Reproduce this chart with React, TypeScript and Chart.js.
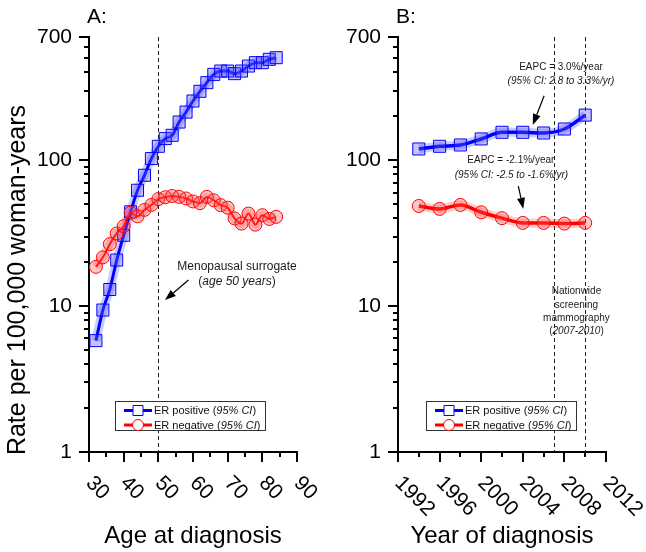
import React, { useEffect, useRef } from 'react';
import { Chart, registerables } from 'chart.js';

Chart.register(...registerables);

const FAMILY = "'Liberation Sans', Arial, Helvetica, sans-serif";

// ---- Panel A data (age at diagnosis) ----
const ageA = [32, 34, 36, 38, 40, 42, 44, 46, 48, 50, 52, 54, 56, 58, 60, 62, 64, 66, 68, 70, 72, 74, 76, 78, 80, 82, 84];
const erPositiveA = [5.8, 9.4, 13.0, 20.7, 30.6, 44.3, 62.3, 78.9, 102.7, 124.7, 140.8, 148.3, 182.9, 214, 254.8, 297, 340.6, 388, 409, 409, 392.5, 409, 442.6, 467, 467, 492, 505];
const erNegativeA = [18.6, 21.6, 26.6, 31.5, 35.3, 43.7, 41.3, 45.7, 49.4, 54.2, 55.8, 56.9, 56.1, 54.7, 52.2, 50.8, 56.1, 53.2, 49.2, 47.3, 39.9, 36.8, 43.1, 36.2, 42.0, 39.6, 40.9];

// ---- Panel B data (year of diagnosis) ----
const yearsB = [1994, 1996, 1998, 2000, 2002, 2004, 2006, 2008, 2010];
const erPositiveB = [119.5, 124.7, 127.3, 140, 155.5, 155.5, 153.8, 163.8, 204];
const erNegativeB = [48.6, 46.4, 49.4, 44.0, 40.1, 37.2, 37.2, 36.8, 37.2];

// ---- Ticks ----
const yTickLabels = [1, 10, 100, 700];
const yMinorTicks = [2, 3, 4, 5, 6, 7, 8, 9, 20, 30, 40, 50, 60, 70, 80, 90, 200, 300, 400, 500, 600];
const ageMajorTicks = [30, 40, 50, 60, 70, 80, 90];
const ageMinorTicks = [35, 45, 55, 65, 75, 85];
const yearMajorTicks = [1992, 1996, 2000, 2004, 2008, 2012];
const yearMinorTicks = [1994, 1998, 2002, 2006, 2010];

// ---- Reference lines ----
const menopauseAge = [50];
const screeningYears = [2007, 2010];

type Part = [string, boolean];
type Note = { parts: Part[]; x: number; y: number; size: number };
type Arrow = { from: [number, number]; to: [number, number] };

const notesA: Note[] = [
  { parts: [['Menopausal surrogate', false]], x: 72.7, y: 18.6, size: 12 },
  { parts: [['(', false], ['age 50 years', true], [')', false]], x: 72.7, y: 14.7, size: 12 },
];
const arrowsA: Arrow[] = [{ from: [58.7, 15.1], to: [51.9, 11.0] }];

const notesB: Note[] = [
  { parts: [['EAPC = 3.0%/year', false]], x: 2007.67, y: 433, size: 10 },
  { parts: [['(95% CI: 2.8 to 3.3%/yr)', true]], x: 2007.67, y: 351, size: 10 },
  { parts: [['EAPC = -2.1%/year', false]], x: 2002.85, y: 99.5, size: 10 },
  { parts: [['(95% CI: -2.5 to -1.6%/yr)', true]], x: 2002.9, y: 79.3, size: 10 },
  { parts: [['Nationwide', false]], x: 2009.16, y: 12.6, size: 10 },
  { parts: [['screening', false]], x: 2009.16, y: 10.2, size: 10 },
  { parts: [['mammography', false]], x: 2009.16, y: 8.29, size: 10 },
  { parts: [['(', false], ['2007-2010', true], [')', false]], x: 2009.16, y: 6.73, size: 10 },
];
const arrowsB: Arrow[] = [
  { from: [2006.05, 277], to: [2004.96, 174.6] },
  { from: [2003.57, 66.4], to: [2004.05, 46.4] },
];

const BLUE = '#0000ff';
const RED = '#ff0000';

function font(size: number, italic = false) {
  return `${italic ? 'italic ' : ''}${size}px ${FAMILY}`;
}

function richText(ctx: CanvasRenderingContext2D, parts: Part[], x: number, y: number, size: number, align: 'left' | 'center') {
  const widths = parts.map(([t, it]) => {
    ctx.font = font(size, it);
    return ctx.measureText(t).width;
  });
  const total = widths.reduce((a, b) => a + b, 0);
  let cx = align === 'center' ? x - total / 2 : x;
  ctx.textAlign = 'left';
  ctx.textBaseline = 'middle';
  parts.forEach(([t, it], i) => {
    ctx.font = font(size, it);
    ctx.fillText(t, cx, y);
    cx += widths[i];
  });
}

function drawArrow(ctx: CanvasRenderingContext2D, x1: number, y1: number, x2: number, y2: number) {
  const ang = Math.atan2(y2 - y1, x2 - x1);
  const hl = 11, hw = 4;
  const bx = x2 - hl * Math.cos(ang), by = y2 - hl * Math.sin(ang);
  ctx.strokeStyle = '#000';
  ctx.fillStyle = '#000';
  ctx.lineWidth = 1.2;
  ctx.setLineDash([]);
  ctx.beginPath();
  ctx.moveTo(x1, y1);
  ctx.lineTo(bx, by);
  ctx.stroke();
  ctx.beginPath();
  ctx.moveTo(x2, y2);
  ctx.lineTo(bx + hw * Math.sin(ang), by - hw * Math.cos(ang));
  ctx.lineTo(bx - hw * Math.sin(ang), by + hw * Math.cos(ang));
  ctx.closePath();
  ctx.fill();
}

type PanelCfg = {
  title: string;
  xTitle: string;
  yTitle?: string;
  xMin: number; xMax: number;
  xMajor: number[]; xMinor: number[];
  refLines: number[];
  notes: Note[];
  arrows: Arrow[];
  yWidth: number;
  padRight: number;
  legendDx: number;
};

function panelPlugin(cfg: PanelCfg) {
  return {
    id: 'panelDecor',
    beforeDatasetsDraw(chart: any) {
      const { ctx, chartArea: ca, scales } = chart;
      ctx.save();
      ctx.strokeStyle = '#222';
      ctx.lineWidth = 1;
      ctx.setLineDash([4, 3]);
      cfg.refLines.forEach((v) => {
        const px = Math.round(scales.x.getPixelForValue(v)) + 0.5;
        ctx.beginPath();
        ctx.moveTo(px, ca.top);
        ctx.lineTo(px, ca.bottom);
        ctx.stroke();
      });
      ctx.restore();
    },
    afterDatasetsDraw(chart: any) {
      const { ctx, chartArea: ca } = chart;
      ctx.save();
      const lx = ca.left + cfg.legendDx, ly = ca.bottom - 51, lw = 150, lh = 29;
      ctx.fillStyle = '#fff';
      ctx.fillRect(lx, ly, lw, lh);
      ctx.strokeStyle = '#333';
      ctx.lineWidth = 1;
      ctx.setLineDash([]);
      ctx.strokeRect(lx + 0.5, ly + 0.5, lw, lh);
      const rows: { color: string; shape: 'rect' | 'circle'; label: Part[] }[] = [
        { color: BLUE, shape: 'rect', label: [['ER positive (', false], ['95% CI', true], [')', false]] },
        { color: RED, shape: 'circle', label: [['ER negative (', false], ['95% CI', true], [')', false]] },
      ];
      rows.forEach((r, i) => {
        const cy = ly + 9.5 + i * 14.5;
        const x0 = lx + 9, x1 = lx + 37, mx = (x0 + x1) / 2;
        ctx.strokeStyle = r.color;
        ctx.lineWidth = 3;
        ctx.beginPath();
        ctx.moveTo(x0, cy);
        ctx.lineTo(x1, cy);
        ctx.stroke();
        ctx.fillStyle = '#fff';
        ctx.lineWidth = 1;
        ctx.beginPath();
        if (r.shape === 'rect') ctx.rect(mx - 5, cy - 5, 10, 10);
        else ctx.arc(mx, cy, 5.5, 0, Math.PI * 2);
        ctx.fill();
        ctx.stroke();
        ctx.fillStyle = '#111';
        richText(ctx, r.label, x1 + 2, cy + 0.5, 11, 'left');
      });
      ctx.restore();
    },
    afterDraw(chart: any) {
      const { ctx, chartArea: ca, scales } = chart;
      const xs = scales.x, ys = scales.y;
      ctx.save();
      ctx.strokeStyle = '#000';
      ctx.lineWidth = 2;
      ctx.setLineDash([]);
      // y ticks
      const yt = (v: number, len: number) => {
        const py = Math.round(ys.getPixelForValue(v));
        ctx.beginPath();
        ctx.moveTo(ca.left, py);
        ctx.lineTo(ca.left - len, py);
        ctx.stroke();
      };
      yTickLabels.forEach((v) => yt(v, 10));
      yMinorTicks.forEach((v) => yt(v, 5));
      // x ticks
      const xt = (v: number, len: number) => {
        const px = Math.round(xs.getPixelForValue(v));
        ctx.beginPath();
        ctx.moveTo(px, ca.bottom);
        ctx.lineTo(px, ca.bottom + len);
        ctx.stroke();
      };
      cfg.xMajor.forEach((v) => xt(v, 10));
      cfg.xMinor.forEach((v) => xt(v, 5));
      // x tick labels, rotated clockwise
      ctx.fillStyle = '#000';
      ctx.font = font(21);
      ctx.textAlign = 'left';
      ctx.textBaseline = 'middle';
      cfg.xMajor.forEach((v) => {
        const px = xs.getPixelForValue(v);
        ctx.save();
        ctx.translate(px, ca.bottom + 28);
        ctx.rotate(Math.PI / 4);
        ctx.fillText(String(v), 0, 0);
        ctx.restore();
      });
      // axis title
      ctx.font = font(24);
      ctx.textAlign = 'center';
      ctx.textBaseline = 'alphabetic';
      ctx.fillText(cfg.xTitle, (ca.left + ca.right) / 2, 543);
      // panel title
      ctx.font = font(21);
      ctx.textAlign = 'left';
      ctx.fillText(cfg.title, ca.left - 2, 23);
      // y title
      if (cfg.yTitle) {
        ctx.save();
        ctx.translate(18, 280);
        ctx.rotate(-Math.PI / 2);
        ctx.font = font(25);
        ctx.textAlign = 'center';
        ctx.textBaseline = 'middle';
        ctx.fillText(cfg.yTitle, 0, 0);
        ctx.restore();
      }
      // annotations
      ctx.fillStyle = '#1a1a1a';
      cfg.notes.forEach((n) => {
        richText(ctx, n.parts, xs.getPixelForValue(n.x), ys.getPixelForValue(n.y), n.size, 'center');
      });
      cfg.arrows.forEach((a) => {
        drawArrow(
          ctx,
          xs.getPixelForValue(a.from[0]), ys.getPixelForValue(a.from[1]),
          xs.getPixelForValue(a.to[0]), ys.getPixelForValue(a.to[1]),
        );
      });
      ctx.restore();
    },
  };
}

function makeDatasets(xv: number[], pos: number[], neg: number[], posW: number, negW: number) {
  const pts = (vals: number[]) => xv.map((x, i) => ({ x, y: vals[i] }));
  return [
    {
      data: pts(pos), borderColor: 'rgba(70,70,255,0.28)', borderWidth: 9, pointRadius: 0,
      cubicInterpolationMode: 'monotone', fill: false, order: 4,
    },
    {
      data: pts(neg), borderColor: 'rgba(255,70,70,0.28)', borderWidth: 9, pointRadius: 0,
      cubicInterpolationMode: 'monotone', fill: false, order: 3,
    },
    {
      label: 'ER positive', data: pts(pos), borderColor: BLUE, borderWidth: posW,
      cubicInterpolationMode: 'monotone', pointStyle: 'rect', pointRadius: 8.5,
      pointBorderColor: BLUE, pointBorderWidth: 1, pointBackgroundColor: 'rgba(90,90,255,0.35)', order: 2,
    },
    {
      label: 'ER negative', data: pts(neg), borderColor: RED, borderWidth: negW,
      cubicInterpolationMode: 'monotone', pointStyle: 'circle', pointRadius: 6.5,
      pointBorderColor: RED, pointBorderWidth: 1, pointBackgroundColor: 'rgba(255,80,80,0.32)', order: 1,
    },
  ];
}

function makeChart(canvas: HTMLCanvasElement, cfg: PanelCfg, datasets: any[]) {
  return new Chart(canvas, {
    type: 'line',
    data: { datasets },
    options: {
      animation: false,
      responsive: false,
      events: [],
      layout: { padding: { left: 0, right: cfg.padRight, top: 37, bottom: 0 } },
      plugins: { legend: { display: false }, tooltip: { enabled: false } },
      scales: {
        x: {
          type: 'linear', min: cfg.xMin, max: cfg.xMax,
          grid: { display: false, drawTicks: false },
          border: { display: true, color: '#000', width: 2 },
          ticks: { display: false },
          afterFit: (s: any) => { s.height = 100; },
        },
        y: {
          type: 'logarithmic', min: 1, max: 700,
          grid: { display: false, drawTicks: false },
          border: { display: true, color: '#000', width: 2 },
          afterBuildTicks: (s: any) => { s.ticks = yTickLabels.map((v) => ({ value: v })); },
          ticks: {
            padding: 17, color: '#000', font: { size: 21, family: FAMILY },
            callback: (v: any) => String(v),
          },
          afterFit: (s: any) => { s.width = cfg.yWidth; },
        },
      },
    },
    plugins: [panelPlugin(cfg)],
  } as any);
}

export default function App() {
  const refA = useRef<HTMLCanvasElement>(null);
  const refB = useRef<HTMLCanvasElement>(null);

  useEffect(() => {
    const cfgA: PanelCfg = {
      title: 'A:', xTitle: 'Age at diagnosis', yTitle: 'Rate per 100,000 woman-years',
      xMin: 30, xMax: 90, xMajor: ageMajorTicks, xMinor: ageMinorTicks,
      refLines: menopauseAge, notes: notesA, arrows: arrowsA,
      yWidth: 89, padRight: 26, legendDx: 26,
    };
    const cfgB: PanelCfg = {
      title: 'B:', xTitle: 'Year of diagnosis',
      xMin: 1992, xMax: 2012, xMajor: yearMajorTicks, xMinor: yearMinorTicks,
      refLines: screeningYears, notes: notesB, arrows: arrowsB,
      yWidth: 75, padRight: 40, legendDx: 28,
    };
    const a = makeChart(refA.current!, cfgA, makeDatasets(ageA, erPositiveA, erNegativeA, 3, 2));
    const b = makeChart(refB.current!, cfgB, makeDatasets(yearsB, erPositiveB, erNegativeB, 3.5, 3.5));
    return () => { a.destroy(); b.destroy(); };
  }, []);

  return (
    <div style={{ position: 'absolute', left: 0, top: 0, width: 646, height: 552, background: '#fff' }}>
      <canvas ref={refA} width={323} height={552} style={{ position: 'absolute', left: 0, top: 0, width: 323, height: 552 }} />
      <canvas ref={refB} width={323} height={552} style={{ position: 'absolute', left: 323, top: 0, width: 323, height: 552 }} />
    </div>
  );
}
